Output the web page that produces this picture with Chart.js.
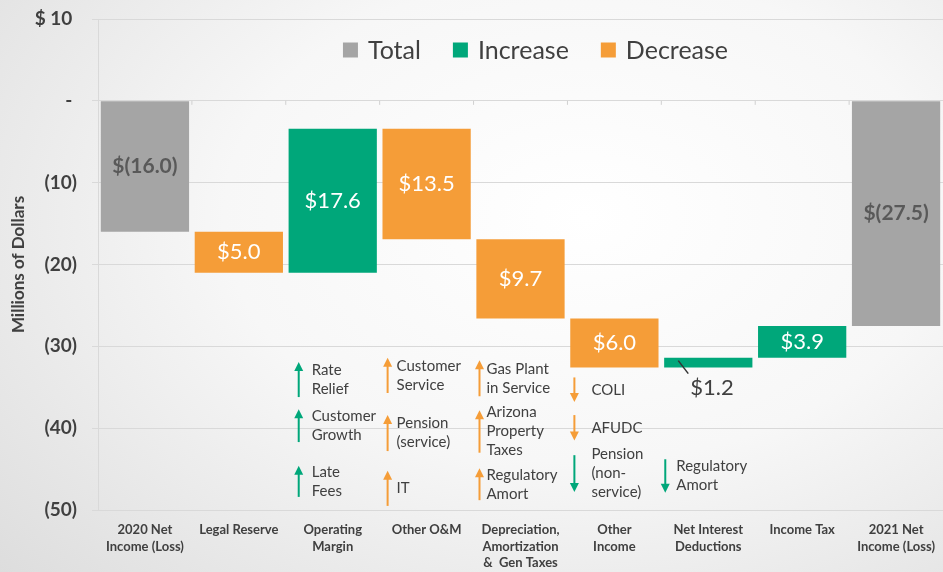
<!DOCTYPE html>
<html>
<head>
<meta charset="utf-8">
<script src="https://cdn.jsdelivr.net/npm/chart.js@4.4.1/dist/chart.umd.min.js"></script>
<style>
  html, body { margin: 0; padding: 0; }
  body {
    width: 943px; height: 572px; overflow: hidden;
    background: radial-gradient(ellipse 85% 95% at 62% 38%, #ffffff 0%, #f7f7f7 45%, #dcdcdc 100%);
  }
  canvas { display: block; }
</style>
</head>
<body>
<canvas id="waterfall" width="943" height="572"></canvas>
<script>
// Waterfall steps
const categories = [
    ['2020 Net', 'Income (Loss)'], 'Legal Reserve', ['Operating', 'Margin'], 'Other O&M',
    ['Depreciation,', 'Amortization', '&  Gen Taxes'], ['Other', 'Income'],
    ['Net Interest', 'Deductions'], 'Income Tax', ['2021 Net', 'Income (Loss)']
];
const stepKinds = ['total', 'decrease', 'increase', 'decrease', 'decrease', 'decrease', 'increase', 'increase', 'total'];
const stepAmounts = [-16.0, -5.0, 17.6, -13.5, -9.7, -6.0, 1.2, 3.9, -27.5];

// Y axis ticks
const yTickValues = [10, 0, -10, -20, -30, -40, -50];
const yTickLabels = ['$ 10 ', '- ', '(10)', '(20)', '(30)', '(40)', '(50)'];

// Drivers written under the bars (arrow tail -> head, in millions)
const notes = [
    { cat: 2, from: -36.2, to: -31.9, kind: 'increase', lines: ['Rate', 'Relief'] },
    { cat: 2, from: -41.7, to: -37.7, kind: 'increase', lines: ['Customer', 'Growth'] },
    { cat: 2, from: -48.4, to: -44.6, kind: 'increase', lines: ['Late', 'Fees'] },
    { cat: 3, from: -35.7, to: -31.4, kind: 'decrease', lines: ['Customer', 'Service'] },
    { cat: 3, from: -42.8, to: -38.4, kind: 'decrease', lines: ['Pension', '(service)'] },
    { cat: 3, from: -49.5, to: -45.2, kind: 'decrease', lines: ['IT'] },
    { cat: 4, from: -36.1, to: -31.7, kind: 'decrease', lines: ['Gas Plant', 'in Service'] },
    { cat: 4, from: -43.0, to: -37.8, kind: 'decrease', lines: ['Arizona', 'Property', 'Taxes'] },
    { cat: 4, from: -48.8, to: -44.9, kind: 'decrease', lines: ['Regulatory', 'Amort'] },
    { cat: 5, from: -33.8, to: -36.8, kind: 'decrease', lines: ['COLI'] },
    { cat: 5, from: -38.4, to: -41.5, kind: 'decrease', lines: ['AFUDC'] },
    { cat: 5, from: -43.3, to: -47.8, kind: 'increase', lines: ['Pension', '(non-', 'service)'] },
    { cat: 6, from: -43.8, to: -47.9, kind: 'increase', lines: ['Regulatory', 'Amort'] }
];

const colors = { total: '#a5a5a5', increase: '#00a77a', decrease: '#f59d38' };
const textColor = '#404040';
const fontFamily = 'Lato, "Open Sans", sans-serif';

// Build floating bars from the running total
let running = 0;
const totalBars = [], increaseBars = [], decreaseBars = [];
stepKinds.forEach((kind, i) => {
    const amount = stepAmounts[i];
    let bar;
    if (kind === 'total') {
        bar = [0, amount];
        running = amount;
    } else {
        bar = [running, running + amount];
        running += amount;
    }
    totalBars.push(kind === 'total' ? bar : null);
    increaseBars.push(kind === 'increase' ? bar : null);
    decreaseBars.push(kind === 'decrease' ? bar : null);
});

function formatAmount(kind, amount) {
    const abs = Math.abs(amount).toFixed(1);
    return kind === 'total' && amount < 0 ? `$(${abs})` : `$${abs}`;
}

// Value labels on the bars
const barLabels = {
    id: 'barLabels',
    afterDatasetsDraw(chart) {
        const ctx = chart.ctx;
        ctx.save();
        chart.data.datasets.forEach((ds, d) => {
            chart.getDatasetMeta(d).data.forEach((bar, i) => {
                if (!ds.data[i]) return;
                const kind = stepKinds[i];
                const text = formatAmount(kind, stepAmounts[i]);
                const top = Math.min(bar.y, bar.base);
                const bottom = Math.max(bar.y, bar.base);
                if (bottom - top < 20) {
                    // too thin: put the label below with a leader line
                    ctx.strokeStyle = '#333';
                    ctx.lineWidth = 1.5;
                    ctx.beginPath();
                    ctx.moveTo(bar.x - 30, bottom - 7);
                    ctx.lineTo(bar.x - 20, bottom + 6);
                    ctx.stroke();
                    ctx.fillStyle = textColor;
                    ctx.font = `22px ${fontFamily}`;
                    ctx.textAlign = 'left';
                    ctx.textBaseline = 'middle';
                    ctx.fillText(text, bar.x - 18, bottom + 20);
                    return;
                }
                ctx.fillStyle = kind === 'total' ? '#595959' : '#ffffff';
                ctx.font = kind === 'total' ? `bold 21px ${fontFamily}` : `22px ${fontFamily}`;
                ctx.textAlign = 'center';
                ctx.textBaseline = 'middle';
                ctx.fillText(text, bar.x, (top + bottom) / 2);
            });
        });
        ctx.restore();
    }
};

// Arrows with driver text
const driverNotes = {
    id: 'driverNotes',
    afterDatasetsDraw(chart, args, opts) {
        const ctx = chart.ctx;
        const x = chart.scales.x, y = chart.scales.y;
        ctx.save();
        notes.forEach(n => {
            const off = opts.offsets[n.cat];
            const ax = x.getPixelForValue(n.cat) + off[0];
            const y0 = y.getPixelForValue(n.from);
            const y1 = y.getPixelForValue(n.to);
            const dir = y1 < y0 ? -1 : 1;
            ctx.strokeStyle = colors[n.kind];
            ctx.fillStyle = colors[n.kind];
            ctx.lineWidth = 2;
            ctx.beginPath();
            ctx.moveTo(ax, y0);
            ctx.lineTo(ax, y1 - dir * 7);
            ctx.stroke();
            ctx.beginPath();
            ctx.moveTo(ax, y1);
            ctx.lineTo(ax - 4.5, y1 - dir * 9);
            ctx.lineTo(ax + 4.5, y1 - dir * 9);
            ctx.closePath();
            ctx.fill();

            ctx.fillStyle = textColor;
            ctx.font = `15px ${fontFamily}`;
            ctx.textAlign = 'left';
            ctx.textBaseline = 'middle';
            const mid = (y0 + y1) / 2;
            const lh = 19;
            const tx = x.getPixelForValue(n.cat) + off[1];
            n.lines.forEach((line, k) => {
                ctx.fillText(line, tx, mid + (k - (n.lines.length - 1) / 2) * lh);
            });
        });
        ctx.restore();
    }
};

// Small tick marks between categories on the zero line
const zeroTicks = {
    id: 'zeroTicks',
    beforeDatasetsDraw(chart) {
        const ctx = chart.ctx;
        const x = chart.scales.x, y = chart.scales.y;
        const y0 = y.getPixelForValue(0);
        ctx.save();
        ctx.strokeStyle = '#d0d0d0';
        ctx.lineWidth = 1;
        for (let i = 1; i < categories.length; i++) {
            const bx = (x.getPixelForValue(i - 1) + x.getPixelForValue(i)) / 2;
            ctx.beginPath();
            ctx.moveTo(bx, y0);
            ctx.lineTo(bx, y0 + 4);
            ctx.stroke();
        }
        ctx.restore();
    }
};

// Legend drawn inside the plot, above the zero line
const insideLegend = {
    id: 'insideLegend',
    afterDraw(chart, args, opts) {
        const ctx = chart.ctx;
        const area = chart.chartArea;
        ctx.save();
        ctx.font = `25px ${fontFamily}`;
        ctx.textBaseline = 'middle';
        ctx.textAlign = 'left';
        const box = 15, gap = 10, itemGap = 32;
        const items = chart.data.datasets.map(ds => ({
            label: ds.label, color: ds.backgroundColor,
            w: box + gap + ctx.measureText(ds.label).width
        }));
        const total = items.reduce((s, it) => s + it.w, 0) + itemGap * (items.length - 1);
        let cx = (area.left + area.right) / 2 + opts.shiftX - total / 2;
        const cy = opts.y;
        items.forEach(it => {
            ctx.fillStyle = it.color;
            ctx.fillRect(cx, cy - box / 2, box, box);
            ctx.fillStyle = textColor;
            ctx.fillText(it.label, cx + box + gap, cy + 1);
            cx += it.w + itemGap;
        });
        ctx.restore();
    }
};

const waterfallChart = new Chart(
    document.getElementById('waterfall'),
    {
        type: 'bar',
        data: {
            labels: categories,
            datasets: [
                { label: 'Total', data: totalBars, backgroundColor: colors.total },
                { label: 'Increase', data: increaseBars, backgroundColor: colors.increase },
                { label: 'Decrease', data: decreaseBars, backgroundColor: colors.decrease }
            ].map(ds => Object.assign(ds, {
                grouped: false,
                barPercentage: 0.94,
                categoryPercentage: 1,
                borderWidth: 0
            }))
        },
        options: {
            responsive: false,
            devicePixelRatio: 1,
            animation: false,
            layout: { padding: { top: 19, right: 0, bottom: 0, left: 0 } },
            plugins: {
                legend: { display: false },
                tooltip: { enabled: false },
                insideLegend: { y: 50, shiftX: 15 },
                driverNotes: {
                    offsets: {
                        2: [-34, -21],
                        3: [-39, -30],
                        4: [-41, -34],
                        5: [-40, -23],
                        6: [-43, -32]
                    }
                }
            },
            scales: {
                x: {
                    offset: true,
                    grid: { display: false },
                    border: { display: false },
                    ticks: {
                        color: textColor,
                        font: { family: fontFamily, size: 13, weight: 'bold', lineHeight: 1.3 },
                        padding: 3,
                        maxRotation: 0,
                        autoSkip: false
                    },
                    afterFit: scale => { scale.height = 62; }
                },
                y: {
                    min: -50,
                    max: 10,
                    ticks: {
                        stepSize: 10,
                        color: textColor,
                        font: { family: fontFamily, size: 19, weight: 'bold' },
                        padding: 15,
                        callback: v => {
                            const i = yTickValues.indexOf(v);
                            return i >= 0 ? yTickLabels[i] : '';
                        }
                    },
                    grid: { color: '#d9d9d9', tickLength: 6 },
                    border: { color: '#d9d9d9' },
                    title: {
                        display: true,
                        text: 'Millions of Dollars',
                        color: textColor,
                        font: { family: fontFamily, size: 17, weight: 'bold' },
                        padding: { top: 8, bottom: 0 }
                    },
                    afterFit: scale => {
                        scale.width = 98;
                        scale.paddingTop = 0;
                        scale.paddingBottom = 0;
                    }
                }
            }
        },
        plugins: [zeroTicks, barLabels, driverNotes, insideLegend]
    }
);
</script>
</body>
</html>
